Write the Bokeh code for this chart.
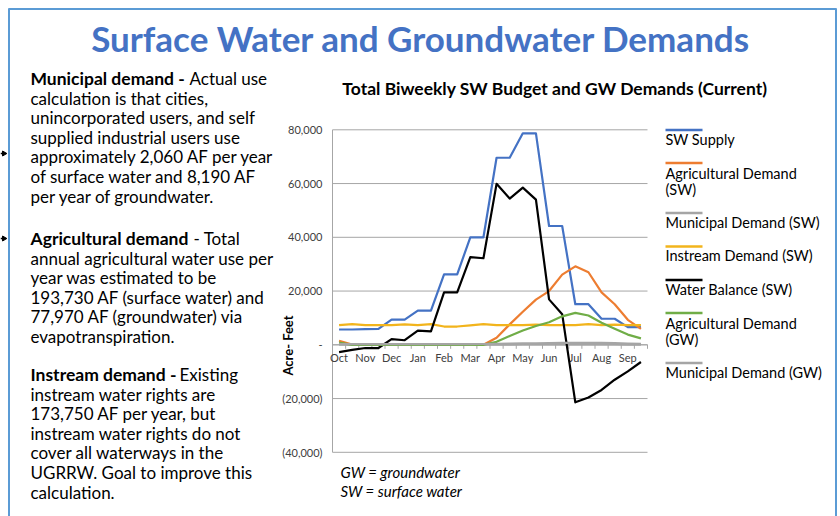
import math
from bokeh.plotting import figure
from bokeh.models import Label, Range1d
from bokeh.core.properties import value
from bokeh.embed import file_html
from bokeh.resources import INLINE

# ---------------- data ----------------
months = ["Oct", "Nov", "Dec", "Jan", "Feb", "Mar", "Apr", "May", "Jun", "Jul", "Aug", "Sep"]
n_periods = 24  # biweekly periods, two per month

sw_supply = [5700, 5700, 5800, 5900, 9400, 9400, 12700, 12700, 26200, 26200, 40000, 40000,
             69600, 69600, 78700, 78700, 44200, 44200, 15100, 15100, 9700, 9700, 6600, 6600]
ag_demand_sw = [1500, 100, 0, 0, 0, 0, 0, 0, 0, 0, 0, 0,
                2600, 7600, 12300, 16800, 20000, 26100, 29200, 27000, 19500, 15100, 9300, 5900]
muni_demand_sw = [60, 60, 60, 60, 60, 60, 60, 60, 60, 60, 70, 80,
                  90, 100, 110, 130, 140, 150, 160, 160, 150, 130, 100, 80]
instream_demand_sw = [7300, 7700, 7300, 7300, 7300, 7600, 7300, 7700, 6800, 6800, 7200, 7700,
                      7300, 7300, 7300, 7500, 7300, 7300, 7300, 7700, 7300, 7500, 7300, 7300]
water_balance_sw = [-2700, -1900, -1200, -1200, 2100, 1700, 5300, 5000, 19500, 19500, 32600, 32200,
                    59900, 54400, 58500, 54000, 16900, 11400, -21400, -19600, -16800, -13000, -9900, -6400]
ag_demand_gw = [800, 0, 0, 0, 0, 0, 0, 0, 0, 0, 0, 0,
                1100, 3300, 5300, 7000, 8400, 10600, 11900, 10900, 8200, 6000, 3800, 2400]
muni_demand_gw = [250, 240, 230, 230, 230, 230, 230, 230, 240, 250, 270, 300,
                  350, 420, 500, 580, 650, 700, 720, 720, 680, 600, 480, 350]

series_names = ["SW Supply", "Agricultural Demand (SW)", "Municipal Demand (SW)",
                "Instream Demand (SW)", "Water Balance (SW)", "Agricultural Demand (GW)",
                "Municipal Demand (GW)"]
series_values = [sw_supply, ag_demand_sw, muni_demand_sw, instream_demand_sw,
                 water_balance_sw, ag_demand_gw, muni_demand_gw]
series_colors = ["#4472C4", "#ED7D31", "#A5A5A5", "#F2B41C", "#000000", "#70AD47", "#A5A5A5"]

y_min, y_max = -40000, 80000
y_ticks = [-40000, -20000, 0, 20000, 40000, 60000, 80000]
y_tick_labels = ["(40,000)", "(20,000)", "-", "20,000", "40,000", "60,000", "80,000"]

title_text = "Surface Water and Groundwater Demands"
chart_title = "Total Biweekly SW Budget and GW Demands (Current)"
y_label = "Acre- Feet"
footnotes = ["GW = groundwater", "SW = surface water"]

paragraphs = [
    ("Municipal demand -", "Actual use", ["calculation is that cities,",
                                          "unincorporated users, and self",
                                          "supplied industrial users use",
                                          "approximately 2,060 AF per year",
                                          "of surface water and 8,190 AF",
                                          "per year of groundwater."]),
    ("Agricultural demand", "- Total", ["annual agricultural water use per",
                                        "year was estimated to be",
                                        "193,730 AF (surface water) and",
                                        "77,970 AF (groundwater) via",
                                        "evapotranspiration."]),
    ("Instream demand -", "Existing", ["instream water rights are",
                                       "173,750 AF per year, but",
                                       "instream water rights do not",
                                       "cover all waterways in the",
                                       "UGRRW. Goal to improve this",
                                       "calculation."]),
]

# ---------------- layout (pixels) ----------------
FONT = "Lato"
W, H = 840, 516
CX0, CX1 = 332.0, 647.0      # chart plot area, left/right
CY0, CY1 = 129.3, 451.8      # chart plot area, top (y_max) / bottom (y_min)
ppx = (CX1 - CX0) / n_periods
ppy = (CY1 - CY0) / (y_max - y_min)

p = figure(width=W, height=H, output_backend="svg", toolbar_location=None,
           x_axis_type=None, y_axis_type=None,
           x_range=Range1d(0, W), y_range=Range1d(H, 0),
           min_border=0, min_border_left=0, min_border_right=0,
           min_border_top=0, min_border_bottom=0)
p.outline_line_color = None
p.background_fill_color = "white"
p.border_fill_color = "white"

# chart coordinate system mapped onto the same canvas
p.extra_x_ranges = {"cx": Range1d(-CX0 / ppx, n_periods + (W - CX1) / ppx)}
p.extra_y_ranges = {"cy": Range1d(y_min - (H - CY1) / ppy, y_max + CY0 / ppy)}
C = dict(x_range_name="cx", y_range_name="cy")

GRID = "#A6A6A6"
# horizontal gridlines
p.segment(x0=[0] * len(y_ticks), x1=[n_periods] * len(y_ticks), y0=y_ticks, y1=y_ticks,
          line_color=GRID, line_width=1, **C)
# y axis line
p.segment(x0=[0], x1=[0], y0=[y_min], y1=[y_max], line_color=GRID, line_width=1, **C)
# y tick labels
p.text(x=[0] * len(y_ticks), y=y_ticks, text=y_tick_labels, x_offset=-10,
       text_align="right", text_baseline="middle", text_font=value(FONT),
       text_font_size="11px", text_color="#404040", **C)

# x axis (category axis at y = 0) with ticks at period boundaries
bounds = list(range(n_periods + 1))
tick_len = 4 / ppy
p.segment(x0=bounds, x1=bounds, y0=[0] * len(bounds), y1=[-tick_len] * len(bounds),
          line_color=GRID, line_width=1, **C)
label_pos = [2 * k + 0.5 for k in range(len(months))]
p.text(x=label_pos, y=[0] * len(months), text=months, y_offset=13,
       text_align="center", text_baseline="middle", text_font=value(FONT),
       text_font_size="11px", text_color="#404040", **C)

x = [i + 0.5 for i in range(n_periods)]
p.segment(x0=[0], x1=[n_periods], y0=[0], y1=[0], line_color=GRID, line_width=1, **C)
for vals, col in zip(series_values, series_colors):
    p.line(x, vals, line_color=col, line_width=2.2, line_join="round", **C)


def lab(text, X, Y, size, style="normal", color="#000000", align="left", angle=0.0):
    p.add_layout(Label(x=X, y=Y, text=text, text_font=FONT, text_font_size=f"{size}px",
                       text_font_style=style, text_color=color, text_align=align,
                       text_baseline="middle", angle=angle))


BORDER = "#5B9BD5"
# slide frame
p.segment(x0=[8, 8.5, 835.5], x1=[836, 8.5, 835.5], y0=[8.5, 8, 8], y1=[8.5, 516, 516],
          line_color=BORDER, line_width=2)
# bullet pointers at the slide edge
p.segment(x0=[0, 0], x1=[3, 3], y0=[153, 238], y1=[153, 238], line_color="#000000", line_width=1.5)
p.scatter(x=[3.5, 3.5], y=[153, 238], marker="triangle", angle=-math.pi / 2, size=5,
          fill_color="#000000", line_color="#000000")

# titles
lab(title_text, 420.5, 37, 35, "bold", "#4472C4", "center")
lab(chart_title, 554.5, 88, 17.5, "bold", "#000000", "center")
lab(y_label, 287, 345, 13, "bold", "#000000", "center", math.pi / 2)
for i, t in enumerate(footnotes):
    lab(t, 340, 471 + 19 * i, 15, "italic", "#000000")

# left text
para_y = [78, 238, 374]
reg_x = [189, 193, 179]
for (b, r, rest), y0, xr in zip(paragraphs, para_y, reg_x):
    lab(b, 30, y0, 17.5, "bold")
    lab(r, xr, y0, 17)
    for j, line in enumerate(rest):
        lab(line, 30, y0 + 19.6 * (j + 1), 17)

# legend
sample_y = [129.5, 162.5, 212.5, 246, 279.5, 312.5, 362.5]
text_y = [139, 172.5, 221.5, 255, 288.5, 322.5, 371.5]
p.segment(x0=[665] * 7, x1=[702] * 7, y0=sample_y, y1=sample_y,
          line_color=series_colors, line_width=2.5)
for name, ty in zip(series_names, text_y):
    if name.startswith("Agricultural"):
        head, tail = name.rsplit(" ", 1)
        lab(head, 665, ty, 14.5)
        lab(tail, 665, ty + 16, 14.5)
    else:
        lab(name, 665, ty, 14.5)

open("out.html", "w").write(file_html(p, INLINE))
